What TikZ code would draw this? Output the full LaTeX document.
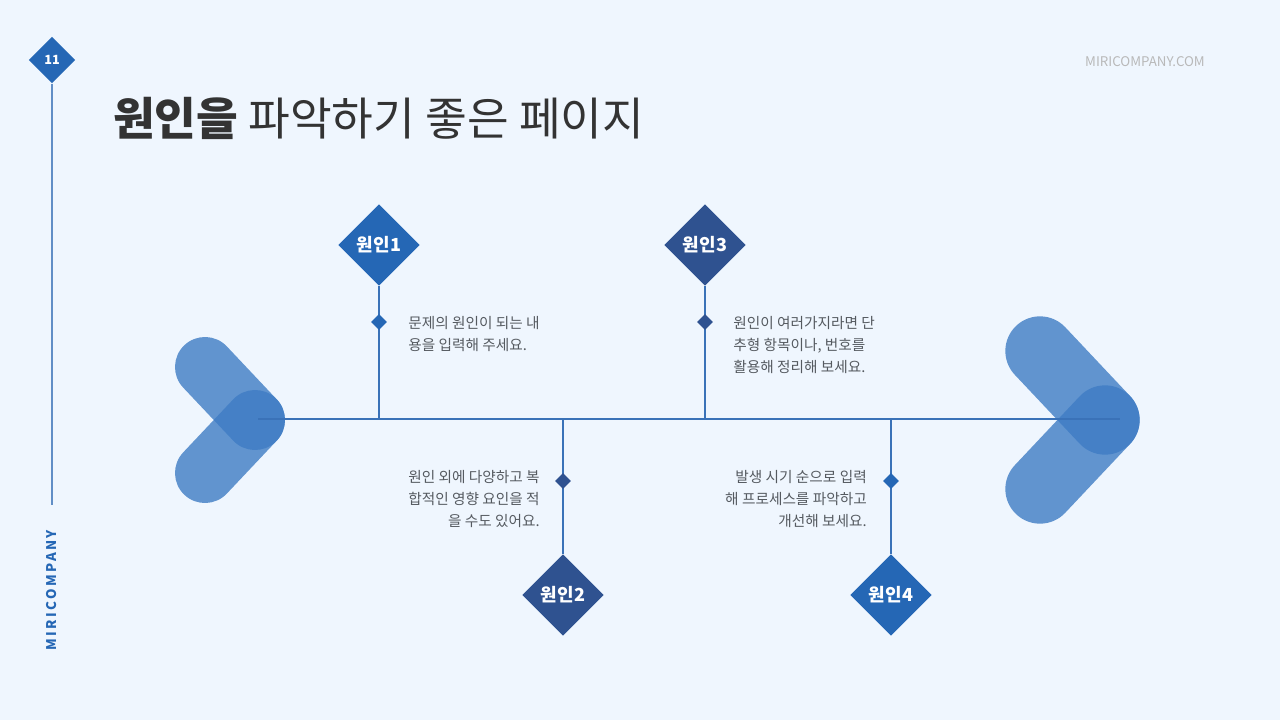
\documentclass[tikz,border=0pt]{standalone}
\usepackage{fontspec}
\setmainfont{Noto Sans CJK KR}
\usetikzlibrary{shapes.geometric,positioning}
\definecolor{bg}{HTML}{EFF6FE}
\definecolor{blueA}{HTML}{2567B5}
\definecolor{navyA}{HTML}{2F5290}
\definecolor{lineA}{HTML}{3A72B8}
\definecolor{chev}{HTML}{3E7CC4}
\definecolor{txt}{HTML}{555A60}
\tikzset{
  cause/.style={diamond,fill=#1,text=white,minimum width=61pt,minimum height=61pt,inner sep=0pt,font=\fontsize{13.5}{14}\selectfont\bfseries},
  dot/.style={diamond,fill=#1,minimum width=12pt,minimum height=12pt,inner sep=0pt},
  note/.style={text=txt,font=\fontsize{11}{16.5}\selectfont,inner sep=0pt},
  stem/.style={lineA,line width=1.6pt},
  arm/.style={chev,opacity=0.8,line cap=round,line width=#1}
}
\begin{document}
\begin{tikzpicture}[x=0.75pt,y=-0.75pt,line join=round]
	\fill[bg] (0,0) rectangle (1280,720);
	\useasboundingbox (0,0) rectangle (1280,720);
	% side bar
	\node[diamond,fill=blueA,text=white,minimum width=35pt,minimum height=35pt,inner sep=0pt,font=\fontsize{9.5}{10}\selectfont\bfseries] (pg) at (52,60) {11};
	\coordinate (barend) at (52,505);
	\draw[lineA!80,line width=1.5pt] (pg.south) -- (barend);
	\node[rotate=90,text=blueA,font=\fontsize{10}{10}\selectfont\bfseries] (brand) at (52,590) {M\,I\,R\,I\,C\,O\,M\,P\,A\,N\,Y};
	\node[text=gray!55,font=\fontsize{10}{10}\selectfont] (site) at (1145,62) {MIRICOMPANY.COM};
	% title
	\node[anchor=west,text=black!80,font=\fontsize{34}{36}\selectfont,inner sep=0pt] (title) at (113,118) {\textbf{원인을} 파악하기 좋은 페이지};
	% chevrons
	\draw[arm=45pt] (205,367) -- (255,420);
	\draw[arm=45pt] (255,420) -- (205,473);
	\draw[arm=52pt] (1040,351) -- (1105,420);
	\draw[arm=52pt] (1105,420) -- (1040,489);
	% spine
	\coordinate (tail) at (258,419);
	\coordinate (head) at (1120,419);
	\draw[stem,line width=2pt] (tail) -- (head);
	% causes
	\node[cause=blueA] (c1) at (379,245) {원인1};
	\node[cause=navyA] (c3) at (705,245) {원인3};
	\node[cause=navyA] (c2) at (563,595) {원인2};
	\node[cause=blueA] (c4) at (891,595) {원인4};
	\coordinate (j1) at (379,419);
	\coordinate (j3) at (705,419);
	\coordinate (j2) at (563,419);
	\coordinate (j4) at (891,419);
	\draw[stem] (c1.south) -- (j1);
	\draw[stem] (c3.south) -- (j3);
	\draw[stem] (c2.north) -- (j2);
	\draw[stem] (c4.north) -- (j4);
	\node[dot=blueA] (d1) at (379,322) {};
	\node[dot=navyA] (d3) at (705,322) {};
	\node[dot=navyA] (d2) at (563,481) {};
	\node[dot=blueA] (d4) at (891,481) {};
	% notes
	\node[note,anchor=north west,align=left] (n1) at (408,316) {문제의 원인이 되는 내\\용을 입력해 주세요.};
	\node[note,anchor=north west,align=left] (n3) at (733,316) {원인이 여러가지라면 단\\추형 항목이나, 번호를\\활용해 정리해 보세요.};
	\node[note,anchor=north east,align=right] (n2) at (540,470) {원인 외에 다양하고 복\\합적인 영향 요인을 적\\을 수도 있어요.};
	\node[note,anchor=north east,align=right] (n4) at (867,470) {발생 시기 순으로 입력\\해 프로세스를 파악하고\\개선해 보세요.};
\end{tikzpicture}
\end{document}
